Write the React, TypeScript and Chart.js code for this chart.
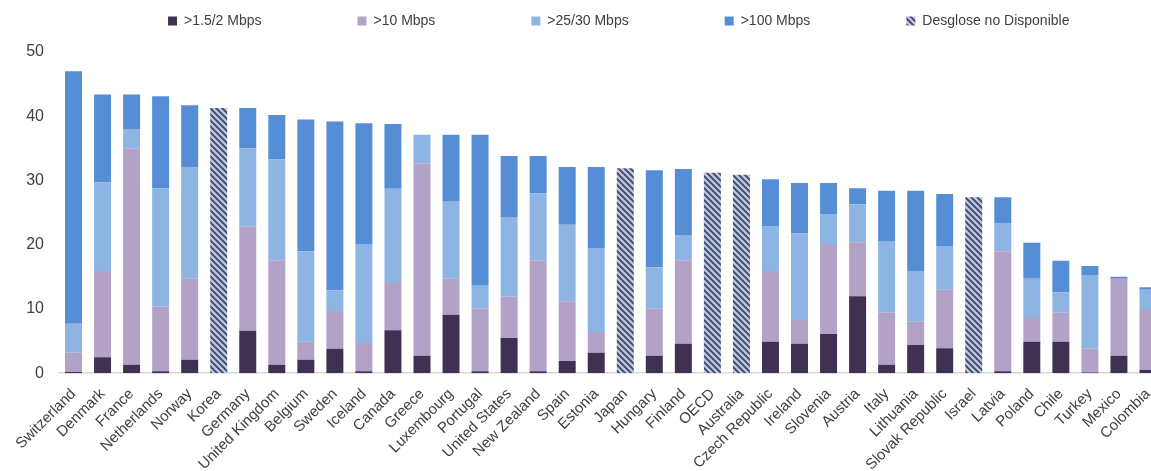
import React, { useEffect, useRef } from "react";
import { Chart, registerables } from "chart.js";

Chart.register(...registerables);

const categories = [
  "Switzerland", "Denmark", "France", "Netherlands", "Norway", "Korea", "Germany",
  "United Kingdom", "Belgium", "Sweden", "Iceland", "Canada", "Greece", "Luxembourg",
  "Portugal", "United States", "New Zealand", "Spain", "Estonia", "Japan", "Hungary",
  "Finland", "OECD", "Australia", "Czech Republic", "Ireland", "Slovenia", "Austria",
  "Italy", "Lithuania", "Slovak Republic", "Israel", "Latvia", "Poland", "Chile",
  "Turkey", "Mexico", "Colombia",
];

const seriesNames = [">1.5/2 Mbps", ">10 Mbps", ">25/30 Mbps", ">100 Mbps", "Desglose no Disponible"];

const mbps2 = [
  0.2, 2.5, 1.3, 0.3, 2.1, null, 6.6, 1.3, 2.1, 3.8, 0.3, 6.7, 2.7, 9.1, 0.3, 5.5, 0.3, 1.9, 3.2,
  null, 2.7, 4.6, null, null, 4.9, 4.6, 6.1, 12.0, 1.3, 4.4, 3.9, null, 0.3, 4.9, 4.9, 0.1, 2.7, 0.5,
];
const mbps10 = [
  3.0, 13.4, 33.7, 10.1, 12.6, null, 16.2, 16.3, 2.8, 5.9, 4.4, 7.5, 29.9, 5.6, 9.8, 6.4, 17.3, 9.3, 3.2,
  null, 7.4, 13.0, null, null, 11.0, 3.7, 14.0, 8.4, 8.1, 3.6, 9.1, null, 18.7, 3.7, 4.5, 3.7, 12.0, 9.5,
];
const mbps25 = [
  4.5, 13.8, 3.0, 18.4, 17.4, null, 12.2, 15.7, 14.1, 3.2, 15.4, 14.5, 4.5, 12.1, 3.5, 12.4, 10.4, 11.9, 13.1,
  null, 6.4, 3.9, null, null, 7.0, 13.5, 4.7, 5.9, 11.2, 7.9, 6.8, null, 4.4, 6.1, 3.2, 11.5, 0, 3.0,
];
const mbps100 = [
  39.3, 13.7, 5.4, 14.3, 9.6, null, 6.3, 6.9, 20.5, 26.3, 18.8, 10.1, 0, 10.3, 23.5, 9.5, 5.8, 9.0, 12.6,
  null, 15.1, 10.3, null, null, 7.3, 7.8, 4.8, 2.5, 7.8, 12.5, 8.1, null, 4.0, 5.6, 4.9, 1.4, 0.3, 0.4,
];
const notAvailable = [
  null, null, null, null, null, 41.3, null, null, null, null, null, null, null, null, null, null, null, null, null,
  31.9, null, null, 31.2, 30.9, null, null, null, null, null, null, null, 27.4, null, null, null, null, null, null,
];

const yTicks = [0, 10, 20, 30, 40, 50];

const colors = ["#3F3151", "#B3A2C7", "#8EB4E3", "#558ED5"];
const LEGEND_PAD = 96;

export default function App() {
  const ref = useRef<HTMLCanvasElement>(null);

  useEffect(() => {
    const canvas = ref.current;
    if (!canvas) return;

    const tile = document.createElement("canvas");
    tile.width = 6;
    tile.height = 6;
    const t = tile.getContext("2d")!;
    t.fillStyle = "#C6C2DC";
    t.fillRect(0, 0, 6, 6);
    t.strokeStyle = "#2E4A6E";
    t.lineWidth = 1.8;
    t.beginPath();
    t.moveTo(-1, -1);
    t.lineTo(7, 7);
    t.moveTo(-1, 5);
    t.lineTo(1, 7);
    t.moveTo(5, -1);
    t.lineTo(7, 1);
    t.stroke();
    const pattern = canvas.getContext("2d")!.createPattern(tile, "repeat");

    Chart.defaults.font.family = "'Liberation Sans', Arial, sans-serif";

    const legendShift = {
      id: "legendShift",
      afterUpdate(chart: any) {
        const lg = chart.legend;
        if (lg) {
          lg.top = 14 - LEGEND_PAD;
          lg.left += 8;
          lg.right += 8;
        }
      },
    };

    const values = [mbps2, mbps10, mbps25, mbps100];
    const datasets: any[] = values.map((v, i) => ({
      label: seriesNames[i],
      data: v,
      backgroundColor: colors[i],
      borderWidth: 0,
      barPercentage: 0.585,
      categoryPercentage: 1.0,
    }));
    datasets.push({
      label: seriesNames[4],
      data: notAvailable,
      backgroundColor: pattern,
      borderWidth: 0,
      barPercentage: 0.585,
      categoryPercentage: 1.0,
    });

    const chart = new Chart(canvas, {
      type: "bar",
      data: { labels: categories, datasets },
      options: {
        responsive: false,
        animation: false,
        layout: { padding: { left: 11.2, top: 22, right: 7.5, bottom: 0 } },
        plugins: {
          tooltip: { enabled: false },
          legend: {
            position: "top",
            fullSize: false,
            maxHeight: 30,
            labels: {
              boxWidth: 9,
              boxHeight: 9,
              padding: LEGEND_PAD,
              color: "#404040",
              font: { size: 14 },
            },
          },
        },
        scales: {
          x: {
            stacked: true,
            grid: { display: true, drawOnChartArea: false, drawTicks: false },
            border: { display: true, color: "#D9D9D9", width: 1.5 },
            afterFit: (scale: any) => {
              scale.paddingLeft = 0;
              scale.paddingRight = 0;
            },
            ticks: {
              autoSkip: false,
              maxRotation: 45,
              minRotation: 45,
              padding: 12,
              color: "#404040",
              font: { size: 15 },
            },
          },
          y: {
            stacked: true,
            min: yTicks[0],
            max: yTicks[yTicks.length - 1],
            grid: { display: false, drawTicks: false },
            border: { display: false },
            afterBuildTicks: (scale: any) => {
              scale.ticks = yTicks.map((v) => ({ value: v }));
            },
            ticks: {
              padding: 15,
              color: "#404040",
              font: { size: 16 },
            },
          },
        },
      },
      plugins: [legendShift],
    });

    return () => chart.destroy();
  }, []);

  return (
    <div style={{ position: "absolute", left: 0, top: 0, width: 1151, height: 471, overflow: "hidden", background: "#fff" }}>
      <canvas ref={ref} width={1170} height={486} style={{ display: "block" }} />
    </div>
  );
}
